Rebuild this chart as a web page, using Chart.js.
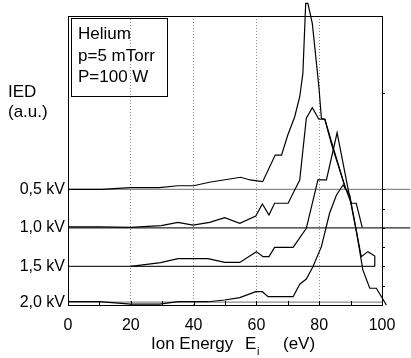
<!DOCTYPE html>
<html><head><meta charset="utf-8">
<script src="https://cdn.jsdelivr.net/npm/chart.js@4"></script>
<style>html,body{margin:0;padding:0;background:#fff}</style>
</head><body>
<canvas id="c" width="411" height="358"></canvas>
<script>
// ---- data ----
const seriesLabels = ['0,5 kV', '1,0 kV', '1,5 kV', '2,0 kV'];
const offsets = [6, 4, 2, 0.15];           // vertical shift of each curve (a.u.)
const baselineEnd = [109, 109, 97.7, 100];  // energy where each baseline stops

const energy05 = [0, 10.6, 20, 29, 35, 40, 45, 55, 58, 62, 66, 68, 70, 72.2, 73.8, 74.8, 75.7, 76.4, 77.8, 79.9, 80.7, 81.8, 84.4, 88.4];
const ied05    = [0, 0, 0.09, 0.09, 0.19, 0.19, 0.37, 0.63, 0.49, 0.40, 1.78, 1.78, 2.82, 3.77, 4.81, 6.02, 9.66, 9.66, 8.62, 5.33, 3.69, 3.64, 2.21, 0.02];

const energy10 = [0, 10, 20, 29.7, 35, 39.8, 45.1, 49.9, 54.7, 59.8, 61.9, 64, 65.8, 70.1, 72.2, 73.8, 75.9, 77.8, 79.9, 81.8, 84.0, 88.4, 90.2, 91.8, 93.7];
const ied10    = [0.06, 0.06, 0.03, 0.12, 0.29, 0.15, 0.29, 0.53, 0.24, 0.62, 1.24, 0.67, 1.28, 1.28, 1.97, 2.49, 5.69, 6.24, 5.64, 5.64, 4.30, 2.06, 1.28, 1.28, 0.03];

const energy15 = [20, 29.5, 35, 44.6, 49.9, 54.7, 60, 62.1, 64, 65.8, 71.7, 75.9, 79.6, 82.3, 85.7, 93.4, 95.5, 97.7, 97.7];
const ied15    = [0, 0.20, 0.41, 0.41, 0.21, 0.21, 0.77, 0.51, 0.51, 0.99, 0.99, 1.98, 4.49, 4.49, 6.94, 0.51, 0.77, 0.54, 0];

const energy20 = [0, 10, 20, 29.2, 35, 44.6, 49.9, 54.7, 59.8, 61.9, 63.7, 71.7, 73.8, 75.9, 78, 80.7, 83.3, 85.5, 87.6, 89.7, 91.8, 93.9, 96.1, 98.2, 101.4];
const ied20    = [0.02, 0.02, -0.10, -0.10, 0.02, 0.02, 0.11, 0.23, 0.54, 0.54, 0.28, 0.28, 0.93, 1.20, 1.84, 2.88, 4.61, 5.56, 6.08, 5.56, 3.74, 1.67, 0.72, 0.72, -0.15];

const xTicks = [0, 20, 40, 60, 80, 100];
const xMinorTicks = [0, 10, 20, 30, 40, 50, 60, 70, 80, 90, 100];
const rightTicks = [1, 2, 3, 4, 5, 6, 11];
const infoLines = ['Helium', 'p=5 mTorr', 'P=100 W'];

// ---- build ----
const FONT = "'Liberation Sans', Arial, Helvetica, sans-serif";
const curves = [[energy05, ied05], [energy10, ied10], [energy15, ied15], [energy20, ied20]];
const baseColors = ['#8c8c8c', '#2a2a2a', '#2a2a2a', '#8c8c8c'];
const datasets = [];
curves.forEach(([xs, ys], i) => {
  datasets.push({
    label: seriesLabels[i],
    data: xs.map((x, k) => ({x: x, y: ys[k] + offsets[i]})),
    borderColor: '#000', borderWidth: 1.2, pointRadius: 0, tension: 0,
    clip: false, order: 0, fill: false
  });
});
offsets.forEach((off, i) => {
  datasets.push({
    label: seriesLabels[i] + ' baseline',
    data: [{x: 0, y: off}, {x: baselineEnd[i], y: off}],
    borderColor: baseColors[i], borderWidth: 1.2, pointRadius: 0,
    clip: false, order: 1, fill: false
  });
});

const deco = {
  id: 'deco',
  afterDraw(chart) {
    const ctx = chart.ctx, a = chart.chartArea;
    const xs = chart.scales.x, ys = chart.scales.y;
    ctx.save();
    ctx.strokeStyle = '#000'; ctx.lineWidth = 1;
    ctx.strokeRect(Math.round(a.left) + 0.5, Math.round(a.top) + 0.5,
                   Math.round(a.right - a.left), Math.round(a.bottom - a.top));
    ctx.beginPath();
    xMinorTicks.forEach(v => {
      const px = Math.round(xs.getPixelForValue(v)) + 0.5;
      ctx.moveTo(px, a.bottom); ctx.lineTo(px, a.bottom - 4);
    });
    rightTicks.forEach(v => {
      const py = Math.round(ys.getPixelForValue(v)) + 0.5;
      ctx.moveTo(a.right, py); ctx.lineTo(a.right + 3, py);
    });
    ctx.stroke();
    // info box
    ctx.strokeRect(71.5, 18.5, 96, 78);
    ctx.fillStyle = '#000';
    ctx.font = '17px ' + FONT;
    ctx.textBaseline = 'alphabetic'; ctx.textAlign = 'left';
    infoLines.forEach((t, i) => ctx.fillText(t, 78, 39 + i * 21.5));
    // y title
    ctx.fillText('IED', 8, 97);
    ctx.fillText('(a.u.)', 8, 117);
    // x title
    ctx.font = '17px ' + FONT;
    ctx.fillText('Ion Energy', 151, 349);
    ctx.fillText('E', 245, 349);
    ctx.font = '11px ' + FONT;
    ctx.fillText('i', 257, 355);
    ctx.font = '17px ' + FONT;
    ctx.fillText('(eV)', 283, 349);
    ctx.restore();
  }
};

new Chart(document.getElementById('c'), {
  type: 'line',
  data: {datasets},
  options: {
    responsive: false, animation: false, devicePixelRatio: 1,
    layout: {padding: {top: 16, left: 0, right: 0, bottom: 0}},
    plugins: {legend: {display: false}, tooltip: {enabled: false}},
    scales: {
      x: {
        type: 'linear', min: 0, max: 100, position: 'bottom',
        afterBuildTicks: s => { s.ticks = xTicks.map(v => ({value: v})); },
        ticks: {font: {family: FONT, size: 16}, color: '#000', padding: 11, maxRotation: 0, autoSkip: false},
        grid: {
          color: c => (c.tick && c.tick.value > 0 && c.tick.value < 100) ? '#8a8a8a' : 'rgba(0,0,0,0)',
          lineWidth: 1, drawTicks: false
        },
        border: {display: false, dash: [1, 2]},
        afterFit: s => { s.height = 53; }
      },
      y: {
        type: 'linear', min: 0, max: 15, position: 'left',
        afterBuildTicks: s => { s.ticks = offsets.map(v => ({value: v})); },
        ticks: {
          callback: v => { const i = offsets.indexOf(v); return i >= 0 ? seriesLabels[i] : ''; },
          font: {family: FONT, size: 16}, color: '#000', padding: 3, autoSkip: false
        },
        grid: {display: false, drawTicks: false},
        border: {display: false},
        afterFit: s => { s.width = 68; }
      },
      y2: {
        type: 'linear', min: 0, max: 15, position: 'right',
        ticks: {display: false},
        grid: {display: false, drawTicks: false},
        border: {display: false},
        afterFit: s => { s.width = 29; }
      }
    }
  },
  plugins: [deco]
});
</script>
</body></html>
